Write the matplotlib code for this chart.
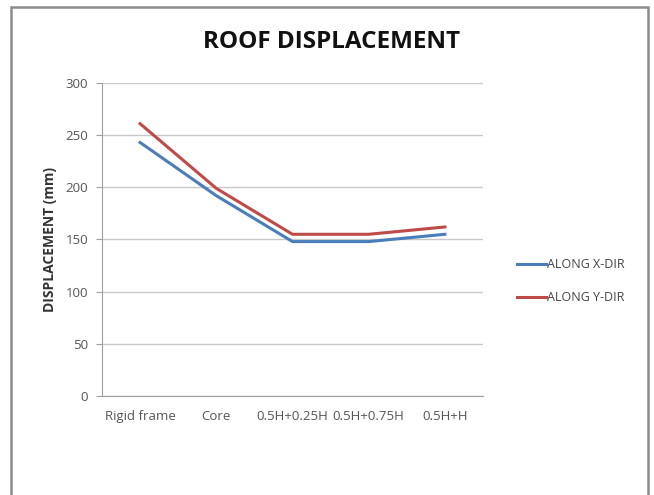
import matplotlib
matplotlib.use("Agg")
import matplotlib.pyplot as plt
from matplotlib.patches import Rectangle

plt.rcParams['font.family'] = ['Open Sans', 'DejaVu Sans']

categories = ["Rigid frame", "Core", "0.5H+0.25H", "0.5H+0.75H", "0.5H+H"]
along_x = [243, 192, 148, 148, 155]
along_y = [261, 199, 155, 155, 162]
y_ticks = [0, 50, 100, 150, 200, 250, 300]

fig = plt.figure(figsize=(6.54, 4.95), dpi=100)
fig.patch.set_facecolor("white")

# outer chart frame
fig.add_artist(Rectangle((11 / 654, -0.05), (648 - 11) / 654, (495 - 7) / 495 + 0.05,
                         transform=fig.transFigure, fill=False,
                         edgecolor="#8c8c8c", linewidth=1.8))

ax = fig.add_axes([102 / 654, 1 - 396 / 495, (483 - 102) / 654, (396 - 83) / 495])
x = list(range(len(categories)))
ax.plot(x, along_x, color="#4a7ebb", linewidth=2.2, label="ALONG X-DIR")
ax.plot(x, along_y, color="#be4b48", linewidth=2.2, label="ALONG Y-DIR")

ax.set_xlim(-0.5, len(categories) - 0.5)
ax.set_ylim(0, 300)
ax.set_yticks(y_ticks)
ax.set_xticks(x)
ax.set_xticklabels(categories)
ax.yaxis.grid(True, color="#c8c8c8", linewidth=1.0)
ax.set_axisbelow(True)
for s in ["top", "right"]:
    ax.spines[s].set_visible(False)
ax.spines["left"].set_color("#a0a0a0")
ax.spines["bottom"].set_color("#a0a0a0")
ax.tick_params(axis="y", length=4, color="#a0a0a0", labelsize=9.5, labelcolor="#555555", pad=6)
ax.tick_params(axis="x", length=0, labelsize=9.5, labelcolor="#555555", pad=10)

ax.set_ylabel("DISPLACEMENT (mm)", fontsize=10, fontweight="bold", color="#333333", labelpad=6)

fig.text(332 / 654, 1 - 42 / 495, "ROOF DISPLACEMENT", ha="center", va="center",
         fontsize=17.5, fontweight="bold", color="#111111")

fig.legend(loc="center left", bbox_to_anchor=(506 / 654, 1 - 281 / 495), frameon=False,
           fontsize=9, handlelength=2.3, handletextpad=0.1, labelspacing=1.6,
           labelcolor="#444444")

fig.savefig("out.png", dpi=100, facecolor="white")
